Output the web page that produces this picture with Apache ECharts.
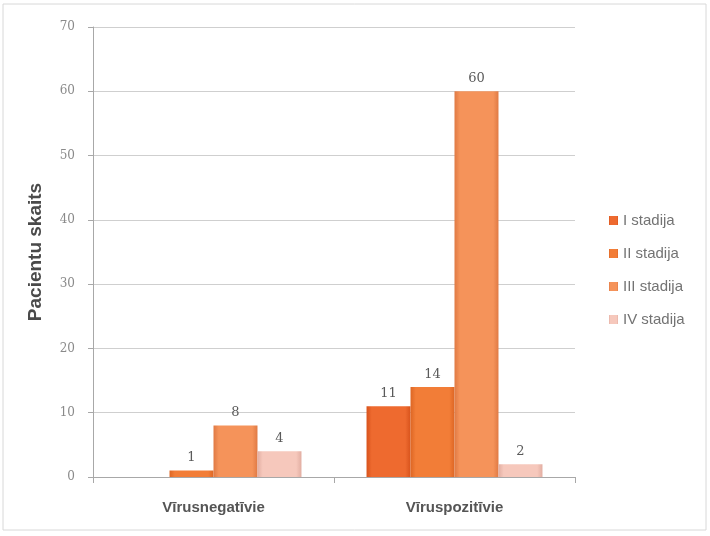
<!DOCTYPE html>
<html><head><meta charset="utf-8">
<script src="https://cdn.jsdelivr.net/npm/echarts@6/dist/echarts.min.js"></script>
<style>html,body{margin:0;padding:0;background:#fff}#c{width:710px;height:536px}</style>
</head><body><div id="c"></div>
<script>
var categories = ['Vīrusnegatīvie', 'Vīruspozitīvie'];
var seriesNames = ['I stadija', 'II stadija', 'III stadija', 'IV stadija'];
var stage1 = [0, 11];
var stage2 = [1, 14];
var stage3 = [8, 60];
var stage4 = [4, 2];
var yTicks = [0, 10, 20, 30, 40, 50, 60, 70];
var colors = ['#ee6a2f', '#f27d37', '#f5935a', '#f6c8bc'];
var edge = ['#d8531c', '#dd6624', '#e07a44', '#e2aea2'];
var values = [stage1, stage2, stage3, stage4];

function grad(i) {
  return new echarts.graphic.LinearGradient(0, 0, 1, 0, [
    {offset: 0, color: edge[i]},
    {offset: 0.12, color: colors[i]},
    {offset: 0.88, color: colors[i]},
    {offset: 1, color: edge[i]}
  ]);
}

var chart = echarts.init(document.getElementById('c'));
chart.setOption({
  animation: false,
  backgroundColor: '#fff',
  color: colors,
  graphic: [{type: 'rect', shape: {x: 3, y: 4, width: 703, height: 526}, style: {fill: 'none', stroke: '#d8d8d8', lineWidth: 1}}],
  grid: {left: 93, right: 135, top: 27, bottom: 59},
  legend: {
    orient: 'vertical', left: 604, top: 208, itemGap: 18, itemWidth: 9, itemHeight: 9,
    icon: 'rect',
    textStyle: {color: '#737373', fontSize: 15, fontFamily: 'Liberation Sans, Arial'},
    data: seriesNames
  },
  xAxis: {
    type: 'category', data: categories,
    axisLine: {lineStyle: {color: '#a8a8a8'}},
    axisTick: {show: true, length: 6, lineStyle: {color: '#a8a8a8'}},
    axisLabel: {color: '#555555', fontSize: 15, fontWeight: 'bold', margin: 23, fontFamily: 'Liberation Sans, Arial'}
  },
  yAxis: {
    type: 'value', min: yTicks[0], max: yTicks[yTicks.length - 1], interval: 10,
    name: 'Pacientu skaits', nameLocation: 'middle', nameGap: 48,
    nameTextStyle: {color: '#4a4a4a', fontSize: 19, fontWeight: 'bold', fontFamily: 'Liberation Sans, Arial'},
    axisLine: {show: true, lineStyle: {color: '#a8a8a8'}},
    axisTick: {show: true, length: 5, lineStyle: {color: '#a8a8a8'}},
    axisLabel: {color: '#8a8a8a', fontSize: 12, margin: 18, fontFamily: 'DejaVu Serif, serif'},
    splitLine: {lineStyle: {color: '#cfcfcf'}}
  },
  series: seriesNames.map(function (n, i) {
    return {
      name: n, type: 'bar', data: values[i],
      barGap: '0%', barCategoryGap: '27%',
      itemStyle: {color: grad(i)},
      label: {
        show: true, position: 'top', distance: 6, color: '#5a5a5a', fontSize: 13,
        fontFamily: 'DejaVu Serif, serif',
        formatter: function (p) { return p.value === 0 ? '' : p.value; }
      }
    };
  })
});
</script></body></html>
